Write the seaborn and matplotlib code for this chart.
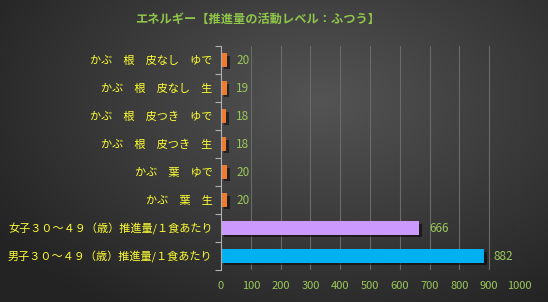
import numpy as np
import pandas as pd
import matplotlib
matplotlib.use("Agg")
import matplotlib.pyplot as plt
import matplotlib.patheffects as pe
import seaborn as sns

categories = [
    "かぶ　根　皮なし　ゆで",
    "かぶ　根　皮なし　生",
    "かぶ　根　皮つき　ゆで",
    "かぶ　根　皮つき　生",
    "かぶ　葉　ゆで",
    "かぶ　葉　生",
    "女子３０～４９（歳）推進量/１食あたり",
    "男子３０～４９（歳）推進量/１食あたり",
]
values = [20, 19, 18, 18, 20, 20, 666, 882]
bar_colors = ["#f07b2f"] * 6 + ["#cc99ff", "#00b0f0"]
title = "エネルギー【推進量の活動レベル：ふつう】"
xticks = [0, 100, 200, 300, 400, 500, 600, 700, 800, 900, 1000]

sns.set_theme(style="dark")
plt.rcParams["font.family"] = ["Noto Sans CJK JP", "DejaVu Sans"]

fig = plt.figure(figsize=(5.48, 3.02), dpi=100)

# radial gradient background
bg = fig.add_axes([0, 0, 1, 1], zorder=-10)
yy, xx = np.mgrid[0:302, 0:548]
r = np.sqrt(((xx - 320) / 400.0) ** 2 + ((yy - 100) / 260.0) ** 2)
shade = np.clip(0.33 - 0.20 * r, 0.14, 0.33)
bg.imshow(np.dstack([shade] * 3), aspect="auto", extent=[0, 1, 0, 1])
bg.axis("off")

ax = fig.add_axes([221 / 548, 1 - 270 / 302, (519 - 221) / 548, (270 - 46) / 302])
ax.set_facecolor("none")

df = pd.DataFrame({"cat": categories, "val": values})
sns.barplot(data=df, y="cat", x="val", hue="cat", palette=bar_colors,
            legend=False, width=0.47, ax=ax, saturation=1, orient="h")

for p in ax.patches:
    p.set_path_effects([pe.SimplePatchShadow(offset=(2, -2), alpha=0.5, shadow_rgbFace="black"),
                        pe.Normal()])
    p.set_edgecolor("none")

ax.set_xlim(0, 1000)
ax.set_xticks(xticks)
ax.set_xticklabels([str(t) for t in xticks], color="#9bc85a", fontsize=8)
ax.set_yticklabels(categories, color="#ffff33", fontsize=8)
ax.set_xlabel("")
ax.set_ylabel("")
ax.grid(axis="x", color="#6a6a6a", linewidth=0.8)
ax.grid(axis="y", visible=False)
ax.set_axisbelow(True)
for s in ["top", "right", "bottom"]:
    ax.spines[s].set_visible(False)
ax.spines["left"].set_visible(True)
ax.spines["left"].set_color("#b0b0b0")
ax.spines["left"].set_linewidth(0.8)

ax.set_yticks(np.arange(len(categories)), minor=False)
ax.tick_params(axis="y", length=0, pad=6)
ax.set_yticks(np.arange(-0.5, len(categories), 1), minor=True)
ax.tick_params(axis="y", which="minor", length=4, color="#b0b0b0", width=0.8, left=True)
ax.tick_params(axis="x", length=0, pad=8)
ax.set_ylim(len(categories) - 0.5, -0.5)

for i, v in enumerate(values):
    ax.text(v + 32, i, str(v), va="center", ha="left", color="#9bc85a", fontsize=8.5)

fig.text(258 / 548, 1 - 19 / 302, title, ha="center", va="center",
         color="#8fc54a", fontsize=8.8, fontweight="bold")

fig.savefig("out.png", dpi=100)
